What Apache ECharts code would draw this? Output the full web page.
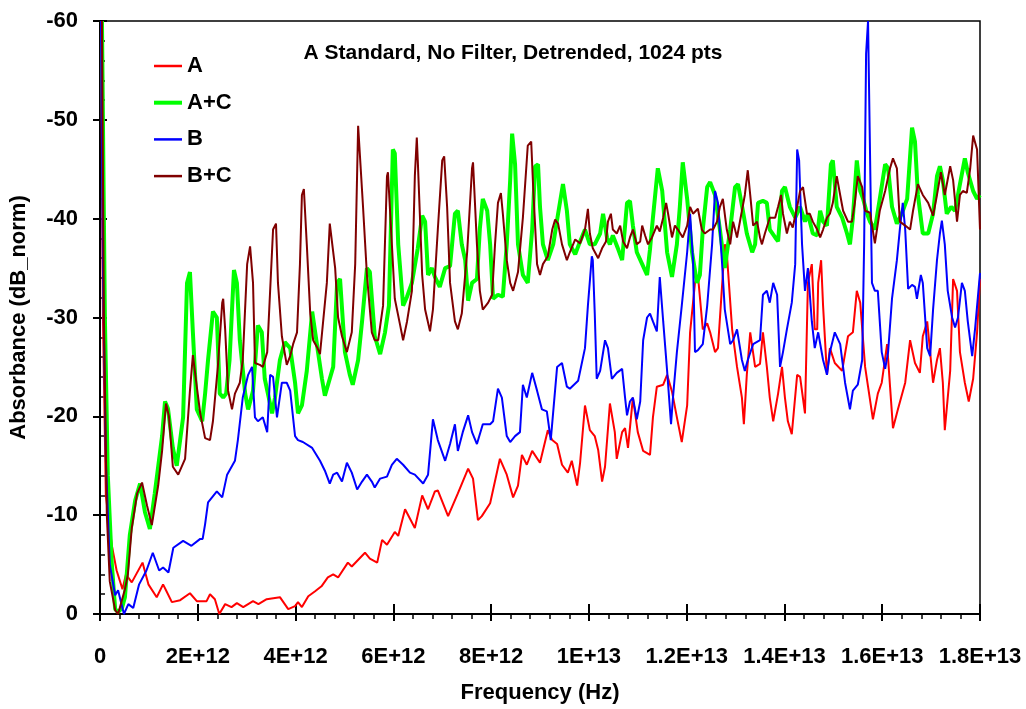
<!DOCTYPE html>
<html>
<head>
<meta charset="utf-8">
<title>A Standard, No Filter, Detrended, 1024 pts</title>
<script src="https://cdn.jsdelivr.net/npm/echarts@6/dist/echarts.min.js"></script>
<style>
  html, body { margin: 0; padding: 0; background: #fff; }
  #chart { width: 1026px; height: 709px; }
</style>
</head>
<body>
<div id="chart"></div>
<script>
// frequency in units of 1E12 Hz, absorbance in dB_norm
var seriesNames = ['A', 'A+C', 'B', 'B+C'];
var xTicks = [0, 2, 4, 6, 8, 10, 12, 14, 16, 18];

var aData = [[0.02,-60],[0.06,-30],[0.12,-12],[0.24,-7.0],[0.34,-4.4],[0.46,-2.5],[0.53,-4.0],[0.65,-3.2],[0.87,-5.2],[0.99,-3.0],[1.16,-1.7],[1.29,-3.0],[1.35,-2.4],[1.47,-1.2],[1.64,-1.4],[1.84,-2.1],[1.98,-1.3],[2.18,-1.3],[2.25,-2.0],[2.35,-1.5],[2.44,0],[2.56,-1.0],[2.69,-0.7],[2.80,-1.1],[2.93,-0.7],[3.13,-1.3],[3.24,-1.0],[3.41,-1.5],[3.68,-1.7],[3.85,-0.5],[3.99,-0.8],[4.05,-1.2],[4.13,-0.7],[4.26,-1.8],[4.40,-2.3],[4.53,-2.8],[4.66,-3.7],[4.77,-4.0],[4.87,-3.7],[5.07,-5.2],[5.15,-4.8],[5.42,-6.2],[5.52,-5.6],[5.67,-5.2],[5.77,-7.5],[5.87,-7.0],[6.03,-8.3],[6.10,-7.9],[6.24,-10.6],[6.44,-8.7],[6.59,-12.0],[6.71,-10.6],[6.85,-12.4],[6.91,-12.5],[7.12,-9.9],[7.32,-12.2],[7.53,-14.7],[7.63,-13.7],[7.73,-9.5],[7.81,-9.9],[7.98,-11.2],[8.18,-15.7],[8.32,-14.1],[8.45,-11.8],[8.55,-13.0],[8.63,-16.1],[8.73,-15.1],[8.84,-16.5],[9.00,-15.3],[9.16,-18.6],[9.25,-17.6],[9.35,-17.2],[9.45,-15.1],[9.57,-14.3],[9.65,-15.5],[9.76,-13.0],[9.82,-15.3],[9.92,-21.1],[10.02,-18.6],[10.12,-18.0],[10.19,-16.6],[10.27,-13.4],[10.33,-14.9],[10.43,-21.3],[10.53,-18.4],[10.57,-15.7],[10.68,-18.4],[10.74,-18.8],[10.80,-16.8],[10.90,-21.9],[11.00,-18.4],[11.11,-16.5],[11.25,-16.1],[11.31,-19.9],[11.39,-23.0],[11.52,-23.2],[11.60,-24.2],[11.70,-22.5],[11.80,-19.9],[11.90,-17.4],[12.01,-21.1],[12.07,-28.5],[12.17,-33.5],[12.23,-34.3],[12.33,-28.8],[12.42,-29.4],[12.48,-28.5],[12.58,-26.5],[12.64,-26.9],[12.78,-37.4],[12.82,-36.6],[12.93,-28.8],[13.03,-25.0],[13.13,-21.9],[13.17,-19.2],[13.23,-24.2],[13.30,-28.5],[13.40,-25.0],[13.50,-25.3],[13.56,-28.5],[13.64,-25.0],[13.70,-21.9],[13.77,-19.5],[13.87,-22.3],[13.95,-25.0],[14.01,-21.9],[14.07,-19.5],[14.15,-18.2],[14.26,-24.2],[14.32,-24.0],[14.42,-20.3],[14.48,-33.5],[14.56,-35.4],[14.62,-28.8],[14.67,-28.8],[14.69,-33.5],[14.75,-35.8],[14.79,-31.2],[14.87,-24.2],[14.93,-26.9],[15.03,-25.4],[15.18,-24.6],[15.30,-28.1],[15.40,-28.5],[15.48,-32.7],[15.55,-31.5],[15.65,-25.0],[15.71,-23.0],[15.81,-19.7],[15.91,-22.3],[15.99,-23.4],[16.10,-27.3],[16.16,-23.0],[16.22,-18.8],[16.32,-20.7],[16.47,-23.4],[16.57,-27.7],[16.67,-25.4],[16.77,-24.4],[16.83,-28.1],[16.92,-29.6],[16.98,-26.5],[17.04,-23.4],[17.12,-25.7],[17.18,-26.9],[17.24,-23.4],[17.28,-18.6],[17.39,-24.6],[17.45,-33.9],[17.53,-32.7],[17.59,-26.5],[17.69,-23.4],[17.77,-21.5],[17.86,-23.8],[17.94,-28.5],[18.00,-33.9]];

var acData = [[0.04,-60],[0.10,-30],[0.16,-14],[0.24,-5.2],[0.31,-0.5],[0.37,-0.2],[0.45,-0.6],[0.51,-1.7],[0.61,-8.0],[0.72,-11.5],[0.82,-13.2],[0.92,-10.3],[1.02,-8.6],[1.12,-12.2],[1.27,-18.0],[1.33,-21.5],[1.39,-20.8],[1.49,-16.8],[1.57,-15.0],[1.70,-19.9],[1.78,-33.5],[1.84,-34.6],[1.90,-28.5],[1.98,-20.7],[2.09,-19.5],[2.15,-22.3],[2.21,-25.7],[2.31,-30.6],[2.39,-30.0],[2.45,-22.3],[2.52,-21.9],[2.58,-22.3],[2.65,-25.7],[2.74,-34.8],[2.80,-33.5],[2.86,-27.7],[2.97,-22.3],[3.03,-20.7],[3.13,-22.6],[3.23,-29.2],[3.31,-28.5],[3.37,-23.8],[3.52,-20.3],[3.58,-21.9],[3.68,-25.7],[3.78,-27.5],[3.89,-26.9],[3.99,-23.4],[4.05,-20.3],[4.13,-21.1],[4.23,-24.6],[4.34,-30.6],[4.46,-26.5],[4.54,-23.8],[4.60,-22.1],[4.70,-23.8],[4.77,-25.0],[4.85,-33.5],[4.91,-33.9],[5.01,-26.5],[5.11,-24.2],[5.17,-23.2],[5.28,-25.7],[5.36,-29.6],[5.46,-35.0],[5.52,-34.6],[5.62,-28.1],[5.73,-26.3],[5.83,-28.5],[5.91,-31.2],[5.99,-47.0],[6.03,-46.6],[6.10,-37.4],[6.20,-31.2],[6.28,-32.1],[6.38,-33.5],[6.50,-37.0],[6.59,-40.3],[6.65,-39.7],[6.71,-34.3],[6.79,-35.0],[6.85,-34.1],[6.95,-33.1],[7.06,-35.0],[7.16,-35.2],[7.26,-40.5],[7.32,-40.8],[7.40,-37.4],[7.47,-35.8],[7.53,-31.7],[7.61,-33.5],[7.71,-33.9],[7.77,-39.0],[7.83,-42.0],[7.92,-40.8],[7.98,-37.4],[8.04,-31.9],[8.14,-32.3],[8.24,-32.1],[8.32,-37.4],[8.39,-43.9],[8.43,-48.6],[8.49,-45.5],[8.55,-37.4],[8.65,-34.3],[8.75,-33.5],[8.84,-38.9],[8.90,-45.3],[8.96,-45.5],[9.00,-41.2],[9.06,-37.4],[9.16,-35.8],[9.27,-37.4],[9.37,-40.5],[9.47,-43.5],[9.55,-40.8],[9.61,-37.4],[9.72,-36.4],[9.82,-37.7],[9.92,-38.9],[10.02,-37.4],[10.12,-37.4],[10.23,-38.5],[10.29,-40.5],[10.37,-38.1],[10.43,-37.4],[10.49,-38.3],[10.60,-36.9],[10.68,-35.8],[10.78,-41.6],[10.84,-41.8],[10.90,-39.3],[10.98,-36.6],[11.09,-35.4],[11.19,-34.3],[11.25,-36.9],[11.31,-40.1],[11.41,-45.1],[11.50,-42.8],[11.60,-36.6],[11.70,-34.1],[11.80,-37.4],[11.86,-41.2],[11.92,-45.7],[12.01,-42.0],[12.11,-36.6],[12.21,-33.5],[12.27,-34.3],[12.33,-38.9],[12.42,-43.2],[12.48,-43.7],[12.58,-42.4],[12.68,-38.9],[12.78,-35.0],[12.89,-38.9],[12.99,-43.2],[13.05,-43.5],[13.15,-40.8],[13.23,-38.5],[13.34,-36.6],[13.40,-37.4],[13.46,-41.6],[13.56,-41.8],[13.64,-41.6],[13.70,-38.9],[13.81,-38.1],[13.87,-37.7],[13.95,-42.8],[14.01,-43.2],[14.11,-41.2],[14.22,-40.1],[14.32,-41.2],[14.42,-39.7],[14.48,-40.5],[14.58,-38.5],[14.67,-38.3],[14.73,-40.8],[14.79,-39.7],[14.87,-39.3],[14.95,-45.5],[14.99,-45.9],[15.07,-41.2],[15.18,-40.1],[15.28,-38.5],[15.34,-37.4],[15.40,-40.1],[15.48,-45.9],[15.55,-42.8],[15.61,-42.0],[15.69,-40.5],[15.75,-39.7],[15.85,-38.9],[15.95,-42.0],[16.06,-45.5],[16.12,-45.1],[16.20,-41.2],[16.30,-39.5],[16.40,-40.5],[16.51,-42.0],[16.61,-49.2],[16.67,-47.8],[16.73,-42.4],[16.83,-38.5],[16.94,-38.5],[17.04,-40.5],[17.12,-44.3],[17.18,-45.3],[17.24,-43.9],[17.32,-40.5],[17.41,-41.2],[17.49,-40.8],[17.59,-43.5],[17.69,-46.1],[17.75,-44.7],[17.86,-42.8],[17.94,-42.0],[18.00,-42.4]];

var bData = [[0.02,-60],[0.06,-35],[0.12,-15.5],[0.20,-5.0],[0.31,-1.9],[0.37,-2.4],[0.43,-1.2],[0.49,0],[0.58,-1.0],[0.68,-0.6],[0.80,-3.0],[0.95,-4.4],[1.08,-6.2],[1.12,-6.4],[1.21,-4.4],[1.29,-4.7],[1.40,-4.2],[1.50,-6.7],[1.70,-7.4],[1.87,-6.9],[2.05,-7.6],[2.10,-7.6],[2.15,-9.1],[2.21,-11.3],[2.39,-12.4],[2.50,-11.8],[2.60,-14.1],[2.76,-15.5],[2.82,-17.6],[2.92,-21.9],[3.03,-24.2],[3.11,-25.0],[3.17,-19.9],[3.23,-19.5],[3.33,-19.9],[3.42,-18.4],[3.48,-24.2],[3.54,-24.0],[3.62,-19.9],[3.72,-23.4],[3.82,-23.4],[3.89,-22.6],[3.99,-18.0],[4.05,-17.6],[4.15,-17.4],[4.34,-16.8],[4.50,-15.5],[4.60,-14.5],[4.70,-13.2],[4.77,-14.1],[4.85,-14.3],[4.95,-13.4],[5.05,-15.3],[5.15,-14.3],[5.26,-12.6],[5.36,-13.4],[5.46,-14.1],[5.56,-13.4],[5.62,-12.8],[5.73,-13.7],[5.87,-13.9],[5.97,-15.1],[6.07,-15.7],[6.20,-15.1],[6.34,-14.3],[6.44,-14.1],[6.61,-13.2],[6.71,-14.1],[6.81,-19.7],[6.91,-17.6],[7.06,-15.5],[7.16,-17.2],[7.26,-19.2],[7.32,-16.5],[7.42,-18.4],[7.53,-20.1],[7.61,-18.4],[7.71,-17.2],[7.83,-19.2],[7.98,-19.2],[8.04,-19.5],[8.14,-22.8],[8.22,-21.9],[8.32,-18.0],[8.39,-17.4],[8.49,-18.0],[8.59,-18.4],[8.65,-23.2],[8.73,-21.9],[8.84,-24.4],[8.94,-22.6],[9.04,-20.7],[9.14,-20.5],[9.22,-17.6],[9.35,-25.0],[9.45,-25.4],[9.55,-23.0],[9.61,-22.8],[9.78,-23.6],[9.92,-26.9],[9.98,-31.2],[10.06,-36.2],[10.08,-35.8],[10.12,-30.4],[10.16,-23.8],[10.23,-24.6],[10.33,-27.7],[10.39,-26.9],[10.47,-23.8],[10.57,-24.4],[10.68,-24.8],[10.74,-21.9],[10.78,-20.1],[10.84,-21.5],[10.90,-21.9],[10.98,-19.7],[11.05,-21.5],[11.11,-27.7],[11.19,-30.0],[11.25,-30.4],[11.31,-29.6],[11.39,-28.6],[11.45,-34.1],[11.52,-29.6],[11.60,-24.6],[11.68,-19.2],[11.72,-21.9],[11.80,-26.5],[11.90,-31.2],[12.01,-36.6],[12.07,-40.5],[12.13,-35.8],[12.17,-26.5],[12.23,-26.7],[12.33,-27.3],[12.42,-31.2],[12.52,-37.4],[12.58,-42.8],[12.64,-41.6],[12.72,-35.8],[12.78,-30.8],[12.89,-27.3],[12.95,-27.7],[13.03,-28.8],[13.13,-25.7],[13.19,-24.6],[13.25,-25.7],[13.36,-27.3],[13.50,-27.7],[13.56,-32.3],[13.64,-32.7],[13.70,-31.5],[13.77,-33.5],[13.85,-32.3],[13.91,-25.0],[13.97,-26.5],[14.05,-28.8],[14.15,-31.5],[14.22,-35.4],[14.26,-47.0],[14.30,-45.9],[14.36,-37.4],[14.42,-32.7],[14.48,-35.0],[14.56,-29.6],[14.62,-26.9],[14.69,-28.5],[14.79,-25.7],[14.87,-24.2],[14.93,-26.5],[15.03,-28.5],[15.14,-27.3],[15.24,-23.4],[15.34,-20.7],[15.40,-22.6],[15.50,-23.2],[15.59,-25.7],[15.63,-37.4],[15.67,-56.7],[15.71,-60],[15.75,-60],[15.79,-33.5],[15.85,-32.7],[15.91,-32.7],[15.99,-26.5],[16.06,-24.8],[16.12,-26.5],[16.20,-31.9],[16.30,-35.8],[16.36,-38.9],[16.42,-41.6],[16.47,-38.9],[16.53,-32.9],[16.61,-33.3],[16.67,-33.1],[16.71,-31.9],[16.79,-34.3],[16.83,-33.5],[16.92,-26.9],[16.98,-26.1],[17.04,-30.8],[17.12,-35.8],[17.18,-38.5],[17.22,-39.8],[17.28,-37.4],[17.34,-32.7],[17.43,-30.0],[17.49,-29.0],[17.55,-30.0],[17.63,-33.5],[17.69,-32.7],[17.75,-29.6],[17.84,-26.1],[17.90,-28.9],[18.00,-34.5]];

var bcData = [[0.04,-60],[0.08,-30],[0.14,-10],[0.20,-3.3],[0.31,-0.4],[0.37,0],[0.41,0],[0.51,-2.5],[0.57,-4.0],[0.65,-8.7],[0.76,-12.2],[0.86,-13.3],[0.96,-11.0],[1.06,-9.0],[1.19,-13.0],[1.27,-16.5],[1.35,-21.3],[1.41,-20.0],[1.49,-14.9],[1.60,-14.1],[1.74,-15.7],[1.84,-22.6],[1.90,-26.2],[1.98,-23.0],[2.05,-20.3],[2.15,-17.8],[2.25,-17.6],[2.31,-19.5],[2.41,-25.0],[2.50,-31.5],[2.52,-31.9],[2.56,-28.8],[2.62,-22.6],[2.70,-20.7],[2.76,-22.3],[2.86,-23.4],[2.92,-25.7],[3.01,-35.4],[3.07,-37.2],[3.13,-33.5],[3.17,-25.4],[3.27,-25.2],[3.33,-25.0],[3.42,-26.5],[3.48,-32.7],[3.54,-38.9],[3.60,-39.5],[3.64,-33.5],[3.72,-28.1],[3.82,-25.2],[3.89,-26.1],[3.95,-27.3],[4.03,-28.5],[4.09,-35.4],[4.13,-42.4],[4.17,-43.0],[4.23,-37.4],[4.30,-30.4],[4.36,-27.7],[4.44,-27.0],[4.50,-26.3],[4.64,-33.5],[4.70,-39.5],[4.74,-39.5],[4.81,-35.0],[4.87,-30.0],[4.95,-28.1],[5.05,-26.5],[5.15,-28.5],[5.22,-35.4],[5.28,-49.4],[5.32,-49.4],[5.38,-41.2],[5.46,-34.3],[5.56,-28.5],[5.62,-27.7],[5.69,-27.7],[5.79,-31.2],[5.87,-44.3],[5.89,-44.7],[5.97,-37.4],[6.03,-31.9],[6.14,-29.2],[6.20,-27.7],[6.28,-29.6],[6.38,-32.7],[6.44,-44.3],[6.48,-48.2],[6.50,-45.9],[6.59,-34.3],[6.65,-30.8],[6.75,-28.6],[6.81,-30.8],[6.91,-38.9],[7.00,-45.9],[7.04,-46.3],[7.10,-41.2],[7.16,-33.5],[7.26,-29.6],[7.32,-28.8],[7.40,-30.4],[7.51,-36.6],[7.61,-45.1],[7.63,-45.7],[7.71,-37.4],[7.77,-32.7],[7.83,-30.8],[7.94,-31.5],[8.02,-32.3],[8.08,-37.4],[8.14,-41.6],[8.20,-42.6],[8.24,-40.5],[8.32,-35.8],[8.39,-33.5],[8.45,-32.7],[8.55,-34.6],[8.65,-40.1],[8.75,-47.4],[8.82,-47.8],[8.86,-43.2],[8.94,-35.4],[9.00,-34.3],[9.06,-35.4],[9.16,-36.2],[9.25,-38.9],[9.31,-39.9],[9.37,-39.5],[9.45,-37.4],[9.55,-35.8],[9.61,-36.6],[9.72,-37.9],[9.82,-37.5],[9.92,-38.9],[9.98,-41.0],[10.02,-38.5],[10.08,-37.0],[10.19,-36.0],[10.27,-37.0],[10.35,-37.7],[10.39,-39.7],[10.45,-40.5],[10.49,-38.9],[10.57,-38.5],[10.64,-39.3],[10.70,-37.7],[10.78,-37.0],[10.84,-38.1],[10.90,-38.9],[10.98,-37.4],[11.05,-37.7],[11.09,-39.3],[11.15,-38.3],[11.21,-37.4],[11.29,-38.1],[11.39,-39.3],[11.45,-38.7],[11.52,-40.1],[11.58,-41.6],[11.62,-40.5],[11.70,-38.1],[11.76,-39.3],[11.82,-38.9],[11.92,-38.1],[12.01,-39.3],[12.07,-41.2],[12.13,-40.5],[12.23,-41.0],[12.31,-38.9],[12.37,-38.5],[12.48,-38.9],[12.54,-38.9],[12.62,-39.7],[12.68,-41.2],[12.74,-42.0],[12.82,-38.9],[12.89,-37.4],[12.95,-39.7],[13.03,-38.1],[13.13,-40.8],[13.19,-42.4],[13.25,-44.9],[13.30,-42.4],[13.36,-39.3],[13.44,-39.7],[13.50,-38.1],[13.54,-37.4],[13.60,-38.5],[13.70,-40.1],[13.81,-40.1],[13.87,-41.2],[13.93,-42.4],[13.97,-40.5],[14.05,-38.5],[14.11,-39.7],[14.17,-39.1],[14.26,-41.2],[14.32,-42.8],[14.38,-43.2],[14.46,-40.5],[14.52,-40.5],[14.58,-39.7],[14.67,-38.9],[14.73,-38.1],[14.79,-38.9],[14.87,-40.1],[14.93,-40.5],[14.99,-41.6],[15.07,-44.3],[15.14,-42.4],[15.20,-40.8],[15.30,-39.7],[15.38,-39.7],[15.44,-41.6],[15.50,-44.3],[15.59,-43.2],[15.65,-40.8],[15.75,-40.6],[15.85,-37.5],[15.95,-40.8],[16.06,-42.8],[16.16,-45.1],[16.22,-46.1],[16.30,-45.1],[16.36,-39.7],[16.47,-39.3],[16.57,-38.9],[16.63,-40.8],[16.73,-43.5],[16.83,-42.4],[16.94,-41.6],[17.04,-40.3],[17.12,-42.4],[17.20,-44.7],[17.28,-42.4],[17.39,-45.3],[17.45,-43.9],[17.53,-39.7],[17.59,-42.4],[17.65,-42.8],[17.73,-42.6],[17.80,-45.1],[17.86,-48.4],[17.94,-47.0],[18.00,-38.9]];

var lineColors = ['#ff0000', '#00ff00', '#0000ff', '#800000'];
var lineWidths = [2, 4, 2, 2];
var allData = [aData, acData, bData, bcData];

var fontFam = '"Liberation Sans", Arial, sans-serif';

// Excel style labels: 2E+12, 1E+13, 1.2E+13 ...
function sciLabel(v) {
    if (v === 0) return '0';
    var exp = Math.floor(Math.log10(v)) + 12;
    var mant = Number((v / Math.pow(10, exp - 12)).toFixed(2));
    return mant + 'E+' + exp;
}

var myChart = echarts.init(document.getElementById('chart'));

var series = seriesNames.map(function (name, i) {
    return {
        name: name,
        type: 'line',
        data: allData[i],
        symbol: 'none',
        showSymbol: false,
        lineStyle: { color: lineColors[i], width: lineWidths[i] },
        itemStyle: { color: lineColors[i] },
        xAxisIndex: 0,
        yAxisIndex: 0
    };
});

// legend marks are short flat bars, the A+C one a bit thicker
var legendData = seriesNames.map(function (name, i) {
    var h = lineWidths[i] > 2 ? 4 : 2.5;
    return {
        name: name,
        icon: 'path://M0,0 L28,0 L28,' + h + ' L0,' + h + ' Z',
        itemStyle: { color: lineColors[i] }
    };
});

var option = {
    animation: false,
    backgroundColor: '#fff',
    title: {
        text: 'A Standard, No Filter, Detrended, 1024 pts',
        left: 'center',
        top: 43,
        padding: 0,
        textStyle: { fontFamily: fontFam, fontSize: 21, fontWeight: 'bold', color: '#000' }
    },
    legend: {
        data: legendData,
        orient: 'vertical',
        left: 154,
        top: 55,
        padding: 0,
        itemWidth: 28,
        itemHeight: 4,
        itemGap: 14.7,
        textStyle: { fontFamily: fontFam, fontSize: 22, fontWeight: 'bold', color: '#000', lineHeight: 22 }
    },
    grid: {
        left: 100,
        right: 46,
        top: 21,
        bottom: 92,
        show: true,
        borderColor: '#000',
        borderWidth: 1.5,
        backgroundColor: '#fff'
    },
    xAxis: [{
        type: 'value',
        min: 0,
        max: 18,
        interval: 2,
        position: 'bottom',
        name: 'Frequency (Hz)',
        nameLocation: 'middle',
        nameGap: 68,
        nameTextStyle: { fontFamily: fontFam, fontSize: 22, fontWeight: 'bold', color: '#000' },
        axisLine: { show: true, lineStyle: { color: '#000', width: 2 } },
        axisTick: { show: true, inside: false, length: 7, lineStyle: { color: '#000', width: 2 } },
        minorTick: { show: true, splitNumber: 5, length: 5, lineStyle: { color: '#000', width: 1.5 } },
        axisLabel: {
            margin: 32,
            fontFamily: fontFam, fontSize: 22, fontWeight: 'bold', color: '#000',
            formatter: sciLabel
        },
        splitLine: { show: false }
    }, {
        type: 'value',
        min: 0,
        max: 18,
        interval: 2,
        position: 'bottom',
        axisLine: { show: false },
        axisTick: { show: true, inside: true, length: 10, lineStyle: { color: '#000', width: 2 } },
        axisLabel: { show: false },
        splitLine: { show: false }
    }],
    yAxis: [{
        type: 'value',
        inverse: true,
        min: -60,
        max: 0,
        interval: 10,
        position: 'left',
        name: 'Absorbance (dB_norm)',
        nameLocation: 'middle',
        nameGap: 70,
        nameTextStyle: { fontFamily: fontFam, fontSize: 22, fontWeight: 'bold', color: '#000' },
        axisLine: { show: true, lineStyle: { color: '#000', width: 2 } },
        axisTick: { show: true, inside: true, length: 7, lineStyle: { color: '#000', width: 2 } },
        minorTick: { show: true, splitNumber: 5, length: 5, lineStyle: { color: '#000', width: 1.5 } },
        axisLabel: { margin: 22, fontFamily: fontFam, fontSize: 22, fontWeight: 'bold', color: '#000' },
        splitLine: { show: false }
    }, {
        type: 'value',
        inverse: true,
        min: -60,
        max: 0,
        interval: 10,
        position: 'left',
        axisLine: { show: false },
        axisTick: { show: true, inside: false, length: 7, lineStyle: { color: '#000', width: 2 } },
        axisLabel: { show: false },
        splitLine: { show: false }
    }],
    series: series
};

myChart.setOption(option);

window.addEventListener('resize', function () {
    myChart.resize();
});
</script>
</body>
</html>
